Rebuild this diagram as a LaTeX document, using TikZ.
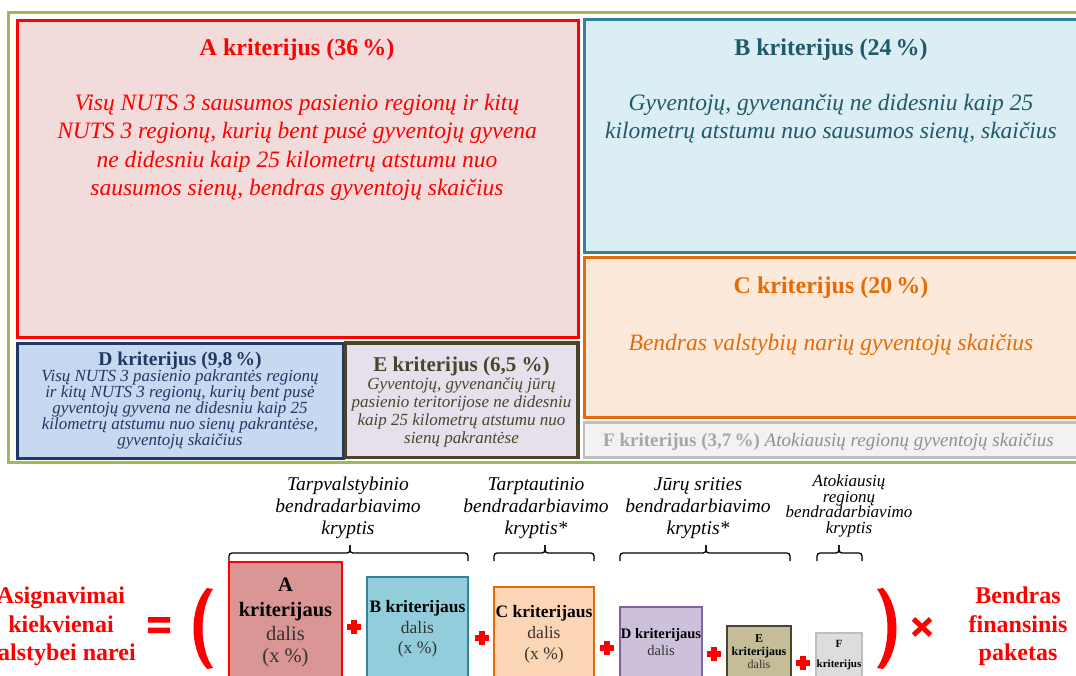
\documentclass[tikz,border=0pt]{standalone}
\usepackage{fontspec}
\setmainfont{Liberation Serif}
\definecolor{frameG}{HTML}{9BBB59}
\definecolor{Aline}{HTML}{FF0000}
\definecolor{Afill}{HTML}{F2DCDB}
\definecolor{Bline}{HTML}{31849B}
\definecolor{Bfill}{HTML}{DAEEF3}
\definecolor{Btext}{HTML}{215968}
\definecolor{Cline}{HTML}{E36C09}
\definecolor{Cfill}{HTML}{FDE9D9}
\definecolor{Dline}{HTML}{1F3864}
\definecolor{Dfill}{HTML}{C6D9F1}
\definecolor{Eline}{HTML}{4A452A}
\definecolor{Efill}{HTML}{E5E0EC}
\definecolor{Fline}{HTML}{BFBFBF}
\definecolor{Ffill}{HTML}{F2F2F2}
\definecolor{Ftext}{HTML}{A6A6A6}
\definecolor{Ftexti}{HTML}{8F8F8F}
\definecolor{bAfill}{HTML}{DA9694}
\definecolor{bBfill}{HTML}{92CDDC}
\definecolor{bCfill}{HTML}{FCD5B4}
\definecolor{bDfill}{HTML}{CCC0DA}
\definecolor{bDline}{HTML}{8064A2}
\definecolor{bEfill}{HTML}{C4BD97}
\definecolor{bFfill}{HTML}{DDDDDD}
\definecolor{darktxt}{HTML}{333333}
\begin{document}
\begin{tikzpicture}[x=1pt,y=-1pt,
  box/.style={draw, rectangle, inner sep=0pt, outer sep=0pt, anchor=north west},
  lbl/.style={inner sep=0pt, outer sep=0pt, anchor=base},
  fTitle/.style={font=\fontsize{24}{28}\selectfont\bfseries},
  fBody/.style={font=\fontsize{23.5}{28}\selectfont\itshape},
  fDT/.style={font=\fontsize{19.5}{22}\selectfont\bfseries},
  fET/.style={font=\fontsize{21}{24}\selectfont\bfseries},
  fSmallIt/.style={font=\fontsize{17}{16}\selectfont\itshape},
  fKr/.style={font=\fontsize{19.5}{22}\selectfont\itshape},
  fKrS/.style={font=\fontsize{17}{16}\selectfont\itshape},
  fBig/.style={font=\fontsize{24}{28}\selectfont\bfseries},
  bracepath/.style={draw=black, line width=1.3pt, rounded corners=3pt},
  redplus/.pic={\fill[red] (-7.2,-2.6) rectangle (7.2,2.6); \fill[red] (-2.6,-7.2) rectangle (2.6,7.2);},
  redtimes/.pic={\draw[red, line width=5pt] (-8.5,-8) -- (8.5,8) (-8.5,8) -- (8.5,-8);}
]
\useasboundingbox (0,0) rectangle (1076,675);
\clip (0,0) rectangle (1076,675);

% ---------- top treemap ----------
\node[box, draw=frameG, line width=3pt, minimum width=1080pt, minimum height=450pt] (frame) at (8.5,12.5) {};
\node[box, draw=Aline, fill=Afill, line width=3pt, minimum width=561pt, minimum height=316.5pt] (Abox) at (17.5,20.5) {};
\node[box, draw=Bline, fill=Bfill, line width=3pt, minimum width=500pt, minimum height=232.5pt] (Bbox) at (584,19.5) {};
\node[box, draw=Cline, fill=Cfill, line width=3pt, minimum width=500pt, minimum height=160.5pt] (Cbox) at (584,257) {};
\node[box, draw=Fline, fill=Ffill, line width=2.5pt, minimum width=500pt, minimum height=35pt] (Fbox) at (584,422.5) {};
\node[box, draw=Dline, fill=Dfill, line width=3pt, minimum width=326pt, minimum height=115.5pt] (Dbox) at (17.5,343) {};
\node[box, draw=Eline, fill=Efill, line width=3.5pt, minimum width=232.5pt, minimum height=114.5pt] (Ebox) at (345.5,343) {};

% A
\node[lbl, fTitle, text=Aline] (At) at (297,55) {A kriterijus (36\,\%)};
\node[lbl, fBody, text=Aline] (A1) at (297,110) {Visų NUTS 3 sausumos pasienio regionų ir kitų};
\node[lbl, fBody, text=Aline] (A2) at (297,138.5) {NUTS 3 regionų, kurių bent pusė gyventojų gyvena};
\node[lbl, fBody, text=Aline] (A3) at (297,167) {ne didesniu kaip 25 kilometrų atstumu nuo};
\node[lbl, fBody, text=Aline] (A4) at (297,195.5) {sausumos sienų, bendras gyventojų skaičius};
% B
\node[lbl, fTitle, text=Btext] (Bt) at (831,55) {B kriterijus (24\,\%)};
\node[lbl, fBody, text=Btext] (B1) at (831,110) {Gyventojų, gyvenančių ne didesniu kaip 25};
\node[lbl, fBody, text=Btext] (B2) at (831,138.5) {kilometrų atstumu nuo sausumos sienų, skaičius};
% C
\node[lbl, fTitle, text=Cline] (Ct) at (831,293) {C kriterijus (20\,\%)};
\node[lbl, fBody, text=Cline] (C1) at (831,350) {Bendras valstybių narių gyventojų skaičius};
% F
\node[inner sep=0pt, anchor=base west, font=\fontsize{19}{22}\selectfont] (Ft) at (603,446)
  {\textcolor{Ftext}{\bfseries F kriterijus (3,7\,\%)} \textcolor{Ftexti}{\itshape Atokiausių regionų gyventojų skaičius}};
% D
\node[lbl, fDT, text=Dline] (Dt) at (180,365) {D kriterijus (9,8\,\%)};
\node[lbl, fSmallIt, text=Dline] (D1) at (180,381.5) {Visų NUTS 3 pasienio pakrantės regionų};
\node[lbl, fSmallIt, text=Dline] (D2) at (180,397.5) {ir kitų NUTS 3 regionų, kurių bent pusė};
\node[lbl, fSmallIt, text=Dline] (D3) at (180,413.5) {gyventojų gyvena ne didesniu kaip 25};
\node[lbl, fSmallIt, text=Dline] (D4) at (180,429.5) {kilometrų atstumu nuo sienų pakrantėse,};
\node[lbl, fSmallIt, text=Dline] (D5) at (180,445.5) {gyventojų skaičius};
% E
\node[lbl, fET, text=Eline] (Et) at (461.5,371) {E kriterijus (6,5 \%)};
\node[lbl, fSmallIt, text=Eline] (E1) at (461.5,389) {Gyventojų, gyvenančių jūrų};
\node[lbl, fSmallIt, text=Eline] (E2) at (461.5,407) {pasienio teritorijose ne didesniu};
\node[lbl, fSmallIt, text=Eline] (E3) at (461.5,425) {kaip 25 kilometrų atstumu nuo};
\node[lbl, fSmallIt, text=Eline] (E4) at (461.5,443) {sienų pakrantėse};

% ---------- formula ----------
\node[lbl, fBig, text=red] (L1) at (61,603) {Asignavimai};
\node[lbl, fBig, text=red] (L2) at (61,632) {kiekvienai};
\node[lbl, fBig, text=red] (L3) at (61,660) {valstybei narei};
\fill[red] (148,617) rectangle (170,622.5) (148,627.5) rectangle (170,633);
\fill[red] (207,588) .. controls (189,608) and (189,649) .. (207,669) -- (213,668) .. controls (199,648) and (199,609) .. (213,589) -- cycle;
\fill[red] (883,588) .. controls (901,608) and (901,649) .. (883,669) -- (877,668) .. controls (891,648) and (891,609) .. (877,589) -- cycle;
\pic at (922,627) {redtimes};
\node[lbl, fBig, text=red] (R1) at (1018,603) {Bendras};
\node[lbl, fBig, text=red] (R2) at (1018,632) {finansinis};
\node[lbl, fBig, text=red] (R3) at (1018,660) {paketas};

% bottom boxes
\node[box, draw=Aline, fill=bAfill, line width=1.2pt, minimum width=113pt, minimum height=130pt] (bA) at (229,562) {};
\node[box, draw=Bline, fill=bBfill, line width=1.2pt, minimum width=101pt, minimum height=120pt] (bB) at (367,577) {};
\node[box, draw=Cline, fill=bCfill, line width=1.2pt, minimum width=100pt, minimum height=110pt] (bC) at (494,587) {};
\node[box, draw=bDline, fill=bDfill, line width=1.2pt, minimum width=82pt, minimum height=90pt] (bD) at (620,607) {};
\node[box, draw=Eline, fill=bEfill, line width=1.2pt, minimum width=64pt, minimum height=70pt] (bE) at (727,626) {};
\node[box, draw=Fline, fill=bFfill, line width=1.2pt, minimum width=46pt, minimum height=60pt] (bF) at (816,633) {};

\node[lbl, font=\fontsize{20.5}{24}\selectfont\bfseries] (bA1) at (285.5,591.5) {A};
\node[lbl, font=\fontsize{20.5}{24}\selectfont\bfseries] (bA2) at (285.5,616) {kriterijaus};
\node[lbl, font=\fontsize{20.5}{24}\selectfont, text=darktxt] (bA3) at (285.5,640) {dalis};
\node[lbl, font=\fontsize{20.5}{24}\selectfont, text=darktxt] (bA4) at (285.5,662) {(x \%)};

\node[lbl, font=\fontsize{17.5}{20}\selectfont\bfseries] (bB1) at (417.5,612.5) {B kriterijaus};
\node[lbl, font=\fontsize{17.5}{20}\selectfont, text=darktxt] (bB2) at (417.5,633) {dalis};
\node[lbl, font=\fontsize{17.5}{20}\selectfont, text=darktxt] (bB3) at (417.5,653) {(x \%)};

\node[lbl, font=\fontsize{17.5}{20}\selectfont\bfseries] (bC1) at (544,617.5) {C kriterijaus};
\node[lbl, font=\fontsize{17.5}{20}\selectfont, text=darktxt] (bC2) at (544,638) {dalis};
\node[lbl, font=\fontsize{17.5}{20}\selectfont, text=darktxt] (bC3) at (544,659) {(x \%)};

\node[lbl, font=\fontsize{14.5}{17}\selectfont\bfseries] (bD1) at (661,638.5) {D kriterijaus};
\node[lbl, font=\fontsize{14.5}{17}\selectfont, text=darktxt] (bD2) at (661,655.5) {dalis};

\node[lbl, font=\fontsize{12}{13}\selectfont\bfseries] (bE1) at (759,642) {E};
\node[lbl, font=\fontsize{12}{13}\selectfont\bfseries] (bE2) at (759,655.5) {kriterijaus};
\node[lbl, font=\fontsize{12}{13}\selectfont, text=darktxt] (bE3) at (759,668) {dalis};

\node[lbl, font=\fontsize{11}{13}\selectfont\bfseries] (bF1) at (839,647) {F};
\node[lbl, font=\fontsize{11}{13}\selectfont\bfseries] (bF2) at (839,667) {kriterijus};

\pic at (354,627) {redplus};
\pic at (482,638) {redplus};
\pic at (607,648) {redplus};
\pic at (714,654) {redplus};
\pic at (803,663) {redplus};

% braces
\path[bracepath] (229,561) -- (229,553) -- (350,553) -- (350,545);
\path[bracepath] (350,545) -- (350,553) -- (468,553) -- (468,561);
\path[bracepath] (494,561) -- (494,553) -- (545,553) -- (545,545);
\path[bracepath] (545,545) -- (545,553) -- (594,553) -- (594,561);
\path[bracepath] (620,561) -- (620,553) -- (706,553) -- (706,545);
\path[bracepath] (706,545) -- (706,553) -- (790,553) -- (790,561);
\path[bracepath] (817,561) -- (817,553) -- (839,553) -- (839,545);
\path[bracepath] (839,545) -- (839,553) -- (862,553) -- (862,561);

\node[lbl, fKr] (k11) at (348,490) {Tarpvalstybinio};
\node[lbl, fKr] (k12) at (348,512.5) {bendradarbiavimo};
\node[lbl, fKr] (k13) at (348,534.5) {kryptis};
\node[lbl, fKr] (k21) at (536,490) {Tarptautinio};
\node[lbl, fKr] (k22) at (536,512.5) {bendradarbiavimo};
\node[lbl, fKr] (k23) at (536,534.5) {kryptis*};
\node[lbl, fKr] (k31) at (698,490) {Jūrų srities};
\node[lbl, fKr] (k32) at (698,512.5) {bendradarbiavimo};
\node[lbl, fKr] (k33) at (698,534.5) {kryptis*};
\node[lbl, fKrS] (k41) at (849,486) {Atokiausių};
\node[lbl, fKrS] (k42) at (849,502) {regionų};
\node[lbl, fKrS] (k43) at (849,517.5) {bendradarbiavimo};
\node[lbl, fKrS] (k44) at (849,533) {kryptis};
\end{tikzpicture}
\end{document}
